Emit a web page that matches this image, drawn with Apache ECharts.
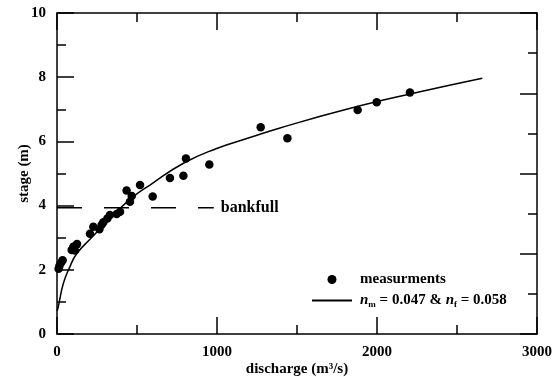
<!DOCTYPE html>
<html>
<head>
<meta charset="utf-8">
<script src="https://cdn.jsdelivr.net/npm/echarts@6/dist/echarts.min.js"></script>
<style>
  html, body { margin: 0; padding: 0; background: #fff; }
  #chart { width: 560px; height: 377px; }
</style>
</head>
<body>
<div id="chart"></div>
<script>
// measured stage-discharge pairs [Q (m3/s), stage (m)]
const measurements = [
  [10, 2.03], [15, 2.12], [25, 2.22], [35, 2.3],
  [92, 2.62], [102, 2.72], [112, 2.6], [125, 2.8],
  [206, 3.12], [227, 3.34], [265, 3.26], [279, 3.4], [290, 3.48],
  [315, 3.6], [331, 3.71], [373, 3.74], [394, 3.81],
  [435, 4.47], [456, 4.12], [467, 4.3], [519, 4.64], [598, 4.28],
  [706, 4.86], [790, 4.93], [806, 5.47], [952, 5.28],
  [1273, 6.44], [1440, 6.1], [1879, 6.98], [1998, 7.22], [2206, 7.52]
];
// computed rating curve
const ratingCurve = [
  [0, 0.72], [8, 0.85], [40, 1.58], [81, 2.1], [123, 2.5],
  [206, 2.95], [373, 3.81], [477, 4.28], [581, 4.64],
  [790, 5.32], [998, 5.78], [1206, 6.12], [1394, 6.42], [1810, 7.0],
  [2227, 7.5], [2658, 7.97]
];
const bankfull = [[0, 3.93], [980, 3.93]];
const xTicks = { min: 0, max: 3000, interval: 1000 };
const yTicks = { min: 0, max: 10, interval: 2 };
const curveName = 'nm';

const font = 'Liberation Serif';
const black = '#000';

function axisBase(extra) {
  return Object.assign({
    type: 'value',
    axisLine: { show: true, onZero: false, lineStyle: { color: black, width: 1.5 } },
    axisTick: { show: true, inside: true, length: 17, lineStyle: { color: black, width: 1.5 } },
    minorTick: { show: true, splitNumber: 2, length: 9, lineStyle: { color: black, width: 1.5 } },
    splitLine: { show: false },
    minorSplitLine: { show: false },
    axisLabel: {
      color: black, fontFamily: font, fontWeight: 'bold', fontSize: 15, margin: 11,
      formatter: v => String(v)
    },
    nameMoveOverlap: false,
    nameTextStyle: { color: black, fontFamily: font, fontWeight: 'bold', fontSize: 15 }
  }, extra);
}

const chart = echarts.init(document.getElementById('chart'));
chart.setOption({
  animation: false,
  backgroundColor: '#fff',
  grid: { left: 57, right: 23, top: 13, bottom: 43, containLabel: false, outerBoundsMode: 'none' },
  xAxis: [
    axisBase(Object.assign({
      position: 'bottom',
      name: 'discharge (m³/s)', nameLocation: 'middle', nameGap: 28
    }, xTicks)),
    axisBase(Object.assign({ position: 'top', axisLabel: { show: false } }, xTicks))
  ],
  yAxis: [
    axisBase(Object.assign({
      position: 'left',
      name: 'stage (m)', nameLocation: 'middle', nameGap: 25, nameRotate: 90
    }, yTicks)),
    axisBase({ min: 0, max: 4, interval: 1, position: 'right', axisLabel: { show: false } })
  ],
  legend: {
    orient: 'vertical',
    left: 311,
    top: 272,
    padding: 0,
    itemWidth: 40,
    itemHeight: 9,
    itemGap: 6,
    data: [
      { name: 'measurments', icon: 'circle' },
      { name: curveName, itemStyle: { opacity: 0 } }
    ],
    formatter: function (name) {
      if (name === curveName) {
        return '{i|n}{s|m}{t| = 0.047 & }{i|n}{s|f}{t| = 0.058}';
      }
      return '{t|measurments}';
    },
    textStyle: {
      color: black,
      padding: [0, 0, 0, 3],
      rich: {
        t: { fontFamily: font, fontWeight: 'bold', fontSize: 15, color: black, lineHeight: 18 },
        i: { fontFamily: font, fontWeight: 'bold', fontStyle: 'italic', fontSize: 15, color: black, lineHeight: 18 },
        s: { fontFamily: font, fontWeight: 'bold', fontSize: 9, color: black, verticalAlign: 'bottom', lineHeight: 12 }
      }
    }
  },
  series: [
    {
      name: curveName,
      type: 'line',
      data: ratingCurve,
      smooth: 0.5,
      symbol: 'none',
      lineStyle: { color: black, width: 1.5 },
      itemStyle: { color: black },
      z: 2
    },
    {
      name: 'bankfull',
      type: 'line',
      data: bankfull,
      symbol: 'none',
      lineStyle: { color: black, width: 1.5, type: [25, 22] },
      endLabel: {
        show: true, formatter: 'bankfull', distance: 7,
        color: black, fontFamily: font, fontWeight: 'bold', fontSize: 16
      },
      z: 2
    },
    {
      name: 'measurments',
      type: 'scatter',
      data: measurements,
      symbol: 'circle',
      symbolSize: 8.5,
      itemStyle: { color: black, opacity: 1 },
      z: 3
    }
  ]
});
</script>
</body>
</html>
